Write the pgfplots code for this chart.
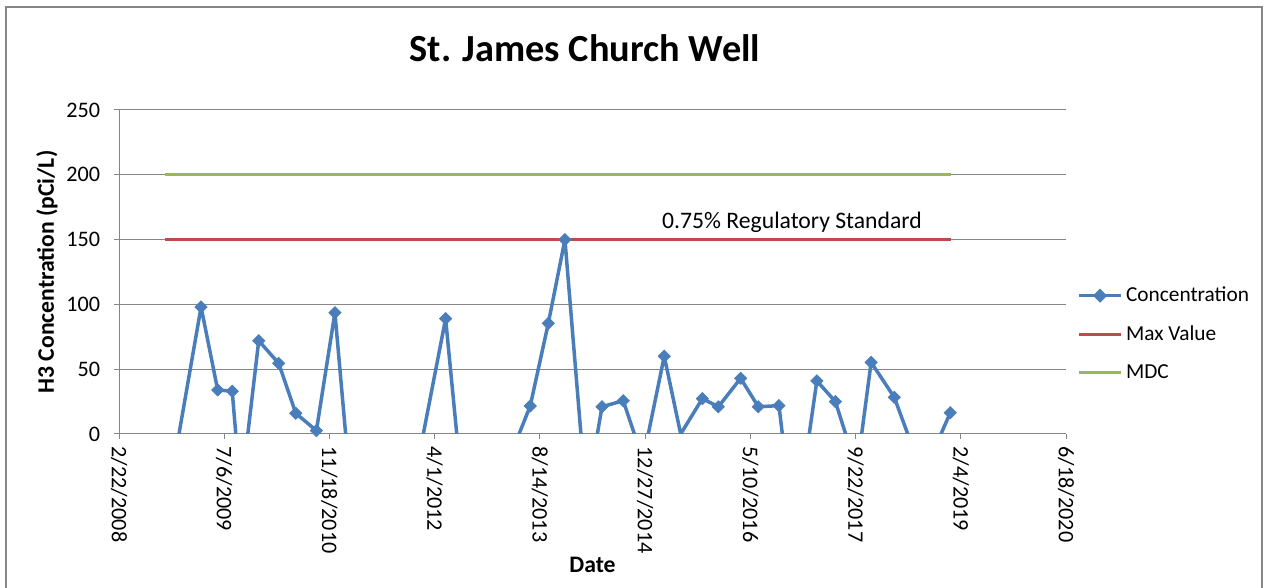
\documentclass[border=0pt]{standalone}
\usepackage{pgfplots}
\pgfplotsset{compat=1.18}
\usepackage{fontspec}
\setmainfont{Carlito}
\definecolor{cblue}{HTML}{4A7EBB}
\definecolor{cred}{HTML}{BE4B48}
\definecolor{cgreen}{HTML}{98B954}
\definecolor{cgrid}{HTML}{868686}
\begin{document}
\begin{tikzpicture}
\useasboundingbox (0pt,0pt) rectangle (758.4pt,352.8pt);
\fill[white] (0pt,0pt) rectangle (758.4pt,352.8pt);
\draw[color=cgrid, line width=1.2pt] (3.3pt,-5pt) -- (3.3pt,348.6pt) -- (757.2pt,348.6pt) -- (757.2pt,-5pt);
\begin{axis}[
  at={(71.4pt,92.4pt)}, anchor=south west,
  scale only axis, width=568.2pt, height=194.4pt,
  xmin=39500, xmax=44000, ymin=0, ymax=250,
  xtick={39500,40000,...,44000},
  xticklabels={2/22/2008,7/6/2009,11/18/2010,4/1/2012,8/14/2013,12/27/2014,5/10/2016,9/22/2017,2/4/2019,6/18/2020},
  scaled x ticks=false,
  ytick={0,50,...,250},
  axis x line=bottom, axis y line=left,
  axis line style={-, draw=cgrid, line width=0.6pt},
  tick align=outside, major tick length=3pt,
  tick style={draw=cgrid, line width=0.6pt},
  ymajorgrids, grid style={draw=cgrid, line width=0.6pt},
  /pgf/number format/assume math mode=true,
  tick label style={font=\fontsize{13.3}{15}\selectfont},
  xticklabel style={rotate=-90, anchor=west, xshift=1pt},
  yticklabel style={anchor=east, xshift=-4.8pt},
  title={St. James Church Well},
  title style={font=\bfseries\fontsize{23}{26}\selectfont, at={(axis description cs:0.492,1.16)}, anchor=center},
  xlabel={Date}, ylabel={H3 Concentration (pCi/L)},
  label style={font=\bfseries\fontsize{14.2}{16}\selectfont},
  xlabel style={at={(axis description cs:0.5,-0.404)}, anchor=center},
  ylabel style={at={(axis description cs:-0.076,0.5)}, anchor=center, rotate=0},
  legend style={at={(axis description cs:1.0064,0.309)}, anchor=west, draw=none, fill=none,
     font=\fontsize{12.8}{15}\selectfont, row sep=8.8pt},
  legend cell align=left,
  legend image code/.code={\draw[mark repeat=2,mark phase=2,#1] plot coordinates {(0pt,0pt) (12.6pt,0pt) (25.2pt,0pt)};},
  unbounded coords=jump,
  clip mode=individual,
]
\addlegendimage{cblue, line width=2pt, mark=square*, mark size=2pt, mark options={rotate=45, solid, fill=cblue}}
\addlegendentry{Concentration}
\addlegendimage{cred, line width=2pt}
\addlegendentry{Max Value}
\addlegendimage{cgreen, line width=2pt}
\addlegendentry{MDC}
\addplot[cred, line width=2pt, forget plot] coordinates {(39719,150) (43454,150)};
\addplot[cgreen, line width=2pt, forget plot] coordinates {(39719,200) (43454,200)};
\addplot[cblue, line width=2.1pt, line join=round, forget plot] coordinates {
(39785,0) (39890,98) (39969,34) (40038,33) (40055,0) (40080,nan)
(40112,0) (40164,72) (40259,54.5) (40340,16) (40438,2.6) (40526,93.6) (40577,0) (40700,nan)
(40946,0) (41052,89) (41105,0) (41300,nan)
(41401,0) (41454,21.6) (41540,85.4) (41619,150) (41695,0) (41730,nan)
(41773,0) (41795,21) (41896,25.7) (41949,0) (41980,nan)
(42015,0) (42091,60) (42169,0) (42272,27.3) (42348,21) (42454,43) (42538,21) (42636,21.9) (42652,0) (42700,nan)
(42780,0) (42816,41) (42904,25) (42953,0) (42990,nan)
(43029,0) (43074,55.3) (43184,28.3) (43248,0) (43300,nan)
(43406,0) (43450,16.4)
};
\addplot[only marks, mark=square*, mark size=2.6pt, mark options={rotate=45, fill=cblue, draw=cblue}, forget plot] coordinates {
(39890,98) (39969,34) (40038,33) (40164,72) (40259,54.5) (40340,16) (40438,2.6) (40526,93.6)
(41052,89) (41454,21.6) (41540,85.4) (41619,150) (41795,21) (41896,25.7) (42091,60)
(42272,27.3) (42348,21) (42454,43) (42538,21) (42636,21.9) (42816,41) (42904,25)
(43074,55.3) (43184,28.3) (43450,16.4)
};
\node[anchor=base, font=\fontsize{14.2}{16}\selectfont] at (axis cs:42698,150) [yshift=6.6pt] {0.75\% Regulatory Standard};
\end{axis}
\end{tikzpicture}
\end{document}
